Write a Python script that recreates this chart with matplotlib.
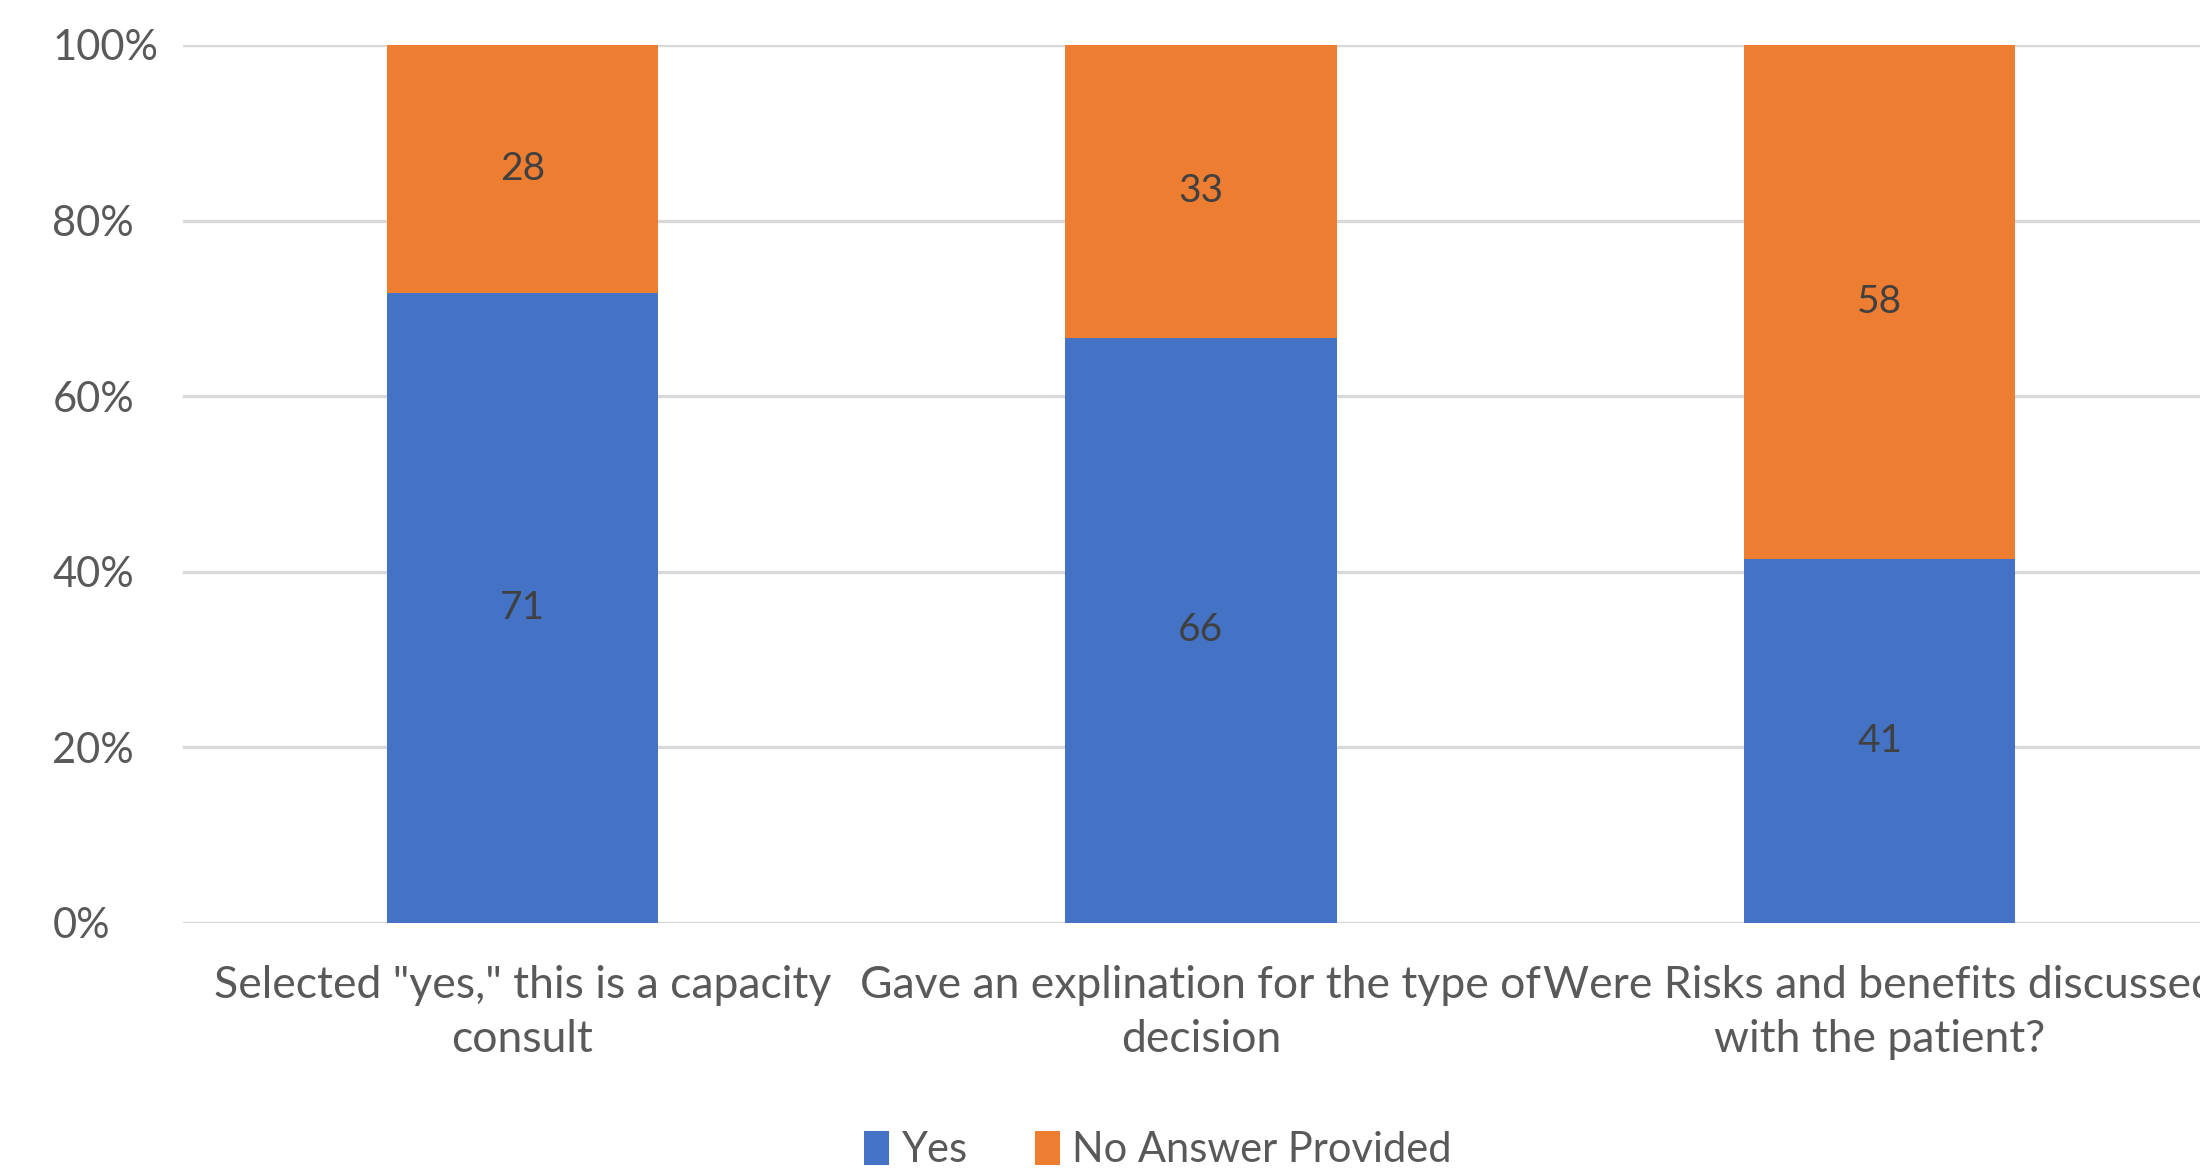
import matplotlib.pyplot as plt
import numpy as np

# dados
categorias = ['Selected "yes," this is a capacity\nconsult',
              'Gave an explination for the type of\ndecision',
              'Were Risks and benefits discussed\nwith the patient?']
sim = np.array([71, 66, 41])
sem_resposta = np.array([28, 33, 58])
ticks_y = [0, 0.2, 0.4, 0.6, 0.8, 1.0]
ticks_y_txt = ['0%', '20%', '40%', '60%', '80%', '100%']

azul = '#4472C4'
laranja = '#ED7D31'
cinza = '#595959'

plt.rcParams['font.family'] = ['Lato', 'DejaVu Sans']

total = sim + sem_resposta
p_sim = sim / total
p_sem = sem_resposta / total

fig = plt.figure(figsize=(22, 11.71), dpi=100)
ax = fig.add_axes([0.0832, 0.2118, 1.0086 - 0.0832, 0.9616 - 0.2118])

x = np.arange(len(categorias))
b1 = ax.bar(x, p_sim, width=0.4, color=azul, label='Yes', zorder=3)
b2 = ax.bar(x, p_sem, width=0.4, bottom=p_sim, color=laranja,
            label='No Answer Provided', zorder=3)

# rotulos dentro das barras
ax.bar_label(b1, labels=[str(v) for v in sim], label_type='center',
             fontsize=28, color='#404040', zorder=4)
ax.bar_label(b2, labels=[str(v) for v in sem_resposta], label_type='center',
             fontsize=28, color='#404040', zorder=4)

ax.set_xlim(-0.5, 2.5)
ax.set_ylim(0, 1)
ax.set_yticks(ticks_y)
ax.set_yticklabels(ticks_y_txt, fontsize=30, color=cinza)
for lbl in ax.get_yticklabels():
    lbl.set_horizontalalignment('left')
ax.tick_params(axis='y', length=0, pad=94)
ax.set_xticks(x)
ax.set_xticklabels(categorias, fontsize=32, color=cinza, linespacing=1.4)
ax.tick_params(axis='x', length=0, pad=30)

ax.grid(axis='y', color='#d9d9d9', linewidth=2.4, zorder=0)
for s in ax.spines.values():
    s.set_visible(False)

fig.legend(loc='center', bbox_to_anchor=(1158 / 2200, 1 - 1150 / 1171),
           ncol=2, frameon=False, fontsize=30, labelcolor=cinza,
           handlelength=0.6, handleheight=0.9, handletextpad=0.3,
           columnspacing=1.6)

plt.savefig('out.png', dpi=100)
